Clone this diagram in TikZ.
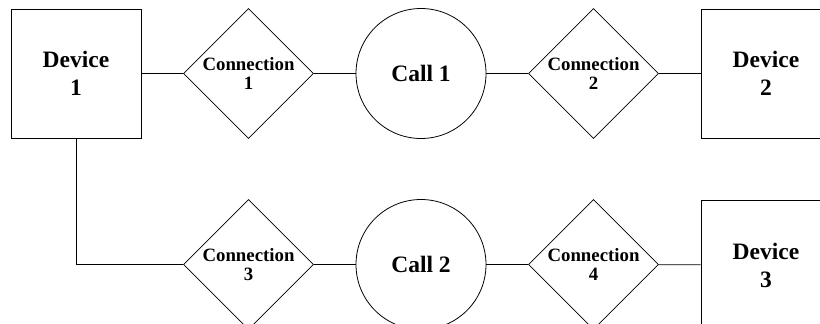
\documentclass[tikz,border=0pt]{standalone}
\usepackage{fontspec}
\setmainfont{Liberation Serif}
\usetikzlibrary{shapes.geometric}

\tikzset{
  device/.style={draw,rectangle,minimum width=130pt,minimum height=129pt,inner sep=0pt,align=center,
    font=\fontsize{23.5}{28}\selectfont\bfseries},
  conn/.style={draw,diamond,minimum size=130pt,inner sep=0pt,align=center,
    font=\fontsize{18.8}{19.5}\selectfont\bfseries},
  call/.style={draw,circle,minimum size=130pt,inner sep=0pt,
    font=\fontsize{23.5}{28}\selectfont\bfseries},
}

\begin{document}
\begin{tikzpicture}[x=1pt,y=-1pt,node distance=172.5pt,line width=0.8pt]
    \useasboundingbox (0,0) rectangle (820,324);
    \clip (0,0) rectangle (820,324);

    \node[device] (1) at (76,73.5) {Device\\1};
    \node[conn,right of=1] (2) {Connection\\1};
    \node[call,right of=2] (3) {Call 1};
    \node[conn,right of=3] (4) {Connection\\2};
    \node[device,right of=4] (5) {Device\\2};

    \node[conn,below of=2,yshift=-18.5pt] (6) {Connection\\3};
    \node[call,right of=6] (7) {Call 2};
    \node[conn,right of=7] (8) {Connection\\4};
    \node[device,right of=8,yshift=-0.5pt] (9) {Device\\3};

    \draw (1) -- (2);
    \draw (2) -- (3);
    \draw (3) -- (4);
    \draw (4) -- (5);
    \draw (1) |- (6);
    \draw (6) -- (7);
    \draw (7) -- (8);
    \draw (8) -- (9);
  \end{tikzpicture}
\end{document}
